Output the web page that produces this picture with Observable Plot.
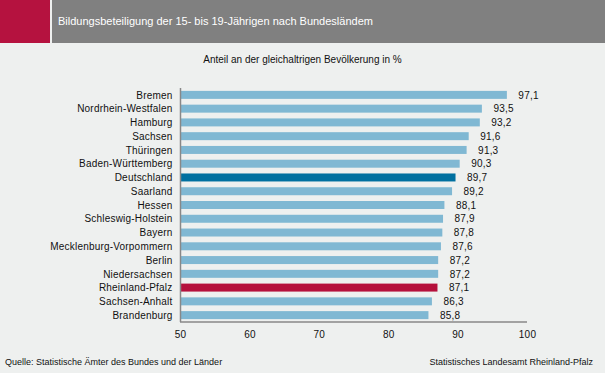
<!DOCTYPE html>
<html><head><meta charset="utf-8">
<script src="https://cdn.jsdelivr.net/npm/d3@7"></script>
<script src="https://cdn.jsdelivr.net/npm/@observablehq/plot@0.6"></script>
<style>
html,body{margin:0;padding:0;}
body{width:605px;height:373px;background:#eef0ef;position:relative;overflow:hidden;font-family:"Liberation Sans",Arial,sans-serif;}
#red{position:absolute;left:0;top:0;width:50px;height:43px;background:#b5123f;}
#band{position:absolute;left:52px;top:0;width:553px;height:43px;background:#808080;}
#title{position:absolute;left:58px;top:15px;color:#fff;font-size:11px;}
#sub{position:absolute;left:0;width:605px;top:54px;text-align:center;font-size:10px;color:#111;}
#src{position:absolute;left:5px;top:357px;font-size:9px;color:#111;}
#org{position:absolute;right:12px;top:357px;font-size:9px;color:#111;}
#chart{position:absolute;left:0;top:0;}
</style></head>
<body>
<div id="chart"></div>
<div id="red"></div><div id="band"></div>
<div id="title">Bildungsbeteiligung der 15- bis 19-Jährigen nach Bundesländem</div>
<div id="sub">Anteil an der gleichaltrigen Bevölkerung in %</div>
<div id="src">Quelle: Statistische Ämter des Bundes und der Länder</div>
<div id="org">Statistisches Landesamt Rheinland-Pfalz</div>
<script>
const laender = ["Bremen","Nordrhein-Westfalen","Hamburg","Sachsen","Thüringen","Baden-Württemberg","Deutschland","Saarland","Hessen","Schleswig-Holstein","Bayern","Mecklenburg-Vorpommern","Berlin","Niedersachsen","Rheinland-Pfalz","Sachsen-Anhalt","Brandenburg"];
const werte = [97.1,93.5,93.2,91.6,91.3,90.3,89.7,89.2,88.1,87.9,87.8,87.6,87.2,87.2,87.1,86.3,85.8];
const xTicks = [50,60,70,80,90,100];
const data = laender.map((name,i)=>({name, value:werte[i]}));
const colorOf = n => n==="Deutschland" ? "#0070a0" : n==="Rheinland-Pfalz" ? "#b5103c" : "#80b8d3";
const fmt = v => v.toFixed(1).replace(".", ",");
const chart = Plot.plot({
  width:605, height:373,
  marginTop:88, marginBottom:51, marginLeft:180, marginRight:78,
  style:{background:"transparent", fontFamily:"Liberation Sans, Arial, sans-serif", fontSize:"10px", color:"#111", letterSpacing:"0.2px"},
  x:{domain:[50,100], ticks:xTicks, tickSize:0, tickPadding:8, label:null},
  y:{domain:laender, paddingInner:0.42, paddingOuter:0.21, round:false, label:null, tickSize:0, tickPadding:8},
  marks:[
    Plot.barX(data,{x1:50, x2:"value", y:"name", fill:d=>colorOf(d.name)}),
    Plot.text(data,{x:"value", y:"name", text:d=>fmt(d.value), textAnchor:"start", dx:11, fill:"#111"}),
    Plot.ruleX([50],{stroke:"#888", strokeWidth:1.5}),
    Plot.axisX({ticks:xTicks, tickSize:0, tickPadding:8, label:null}),
    Plot.axisY({tickSize:0, tickPadding:8, label:null})
  ]
});
document.getElementById("chart").appendChild(chart);
d3.select(chart).append("line").attr("x1",180).attr("x2",527).attr("y1",322).attr("y2",322).attr("stroke","#888").attr("stroke-width",1.5);
</script>
</body></html>
